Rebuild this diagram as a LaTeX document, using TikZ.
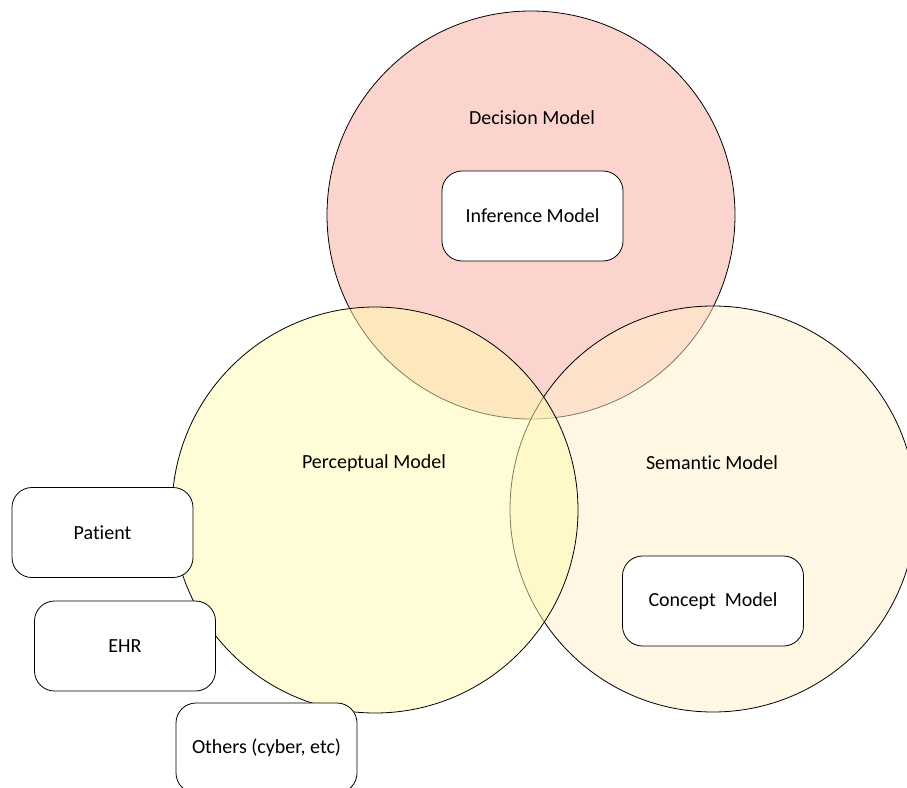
\documentclass[tikz,border=0pt]{standalone}
\usepackage{fontspec}
\setmainfont{Carlito}[Ligatures=NoCommon]
\begin{document}
\begin{tikzpicture}[x=1pt,y=-1pt,
  setcircle/.style={circle, draw=black, line width=0.8pt, fill opacity=0.5, inner sep=0pt, minimum size=#1},
  title/.style={font=\fontsize{20}{24}\selectfont, text=black},
  modelbox/.style={draw=black, line width=0.8pt, fill=white, rounded corners=20pt,
                   minimum width=181pt, minimum height=90pt, inner sep=0pt,
                   font=\fontsize{20}{24}\selectfont}]
  \definecolor{decisionfill}{RGB}{247,171,155}
  \definecolor{semanticfill}{RGB}{255,237,201}
  \definecolor{perceptfill}{RGB}{255,251,175}
  \useasboundingbox (0,0) rectangle (907,787);
  \clip (0,0) rectangle (907,787);

  % the three overlapping sets
  \node[setcircle=408pt, fill=decisionfill] (decision) at (531,215) {};
  \node[setcircle=406pt, fill=semanticfill] (semantic) at (713,509) {};
  \node[setcircle=406pt, fill=perceptfill] (perceptual) at (375,510) {};

  % set titles
  \node[title] (decisionlbl) at (532,118) {Decision Model};
  \node[title] (perceptlbl) at (374,463) {Perceptual Model};
  \node[title] (semanticlbl) at (712,463) {Semantic Model};

  % inner models
  \node[modelbox] (inference) at (532.5,216) {Inference Model};
  \node[modelbox] (concept) at (713,601) {Concept\ \ Model};

  % data sources
  \node[modelbox] (patient) at (102.5,532.5) {Patient};
  \node[modelbox] (ehr) at (125,646) {EHR};
  \node[modelbox] (others) at (266.5,748) {Others (cyber, etc)};
\end{tikzpicture}
\end{document}
